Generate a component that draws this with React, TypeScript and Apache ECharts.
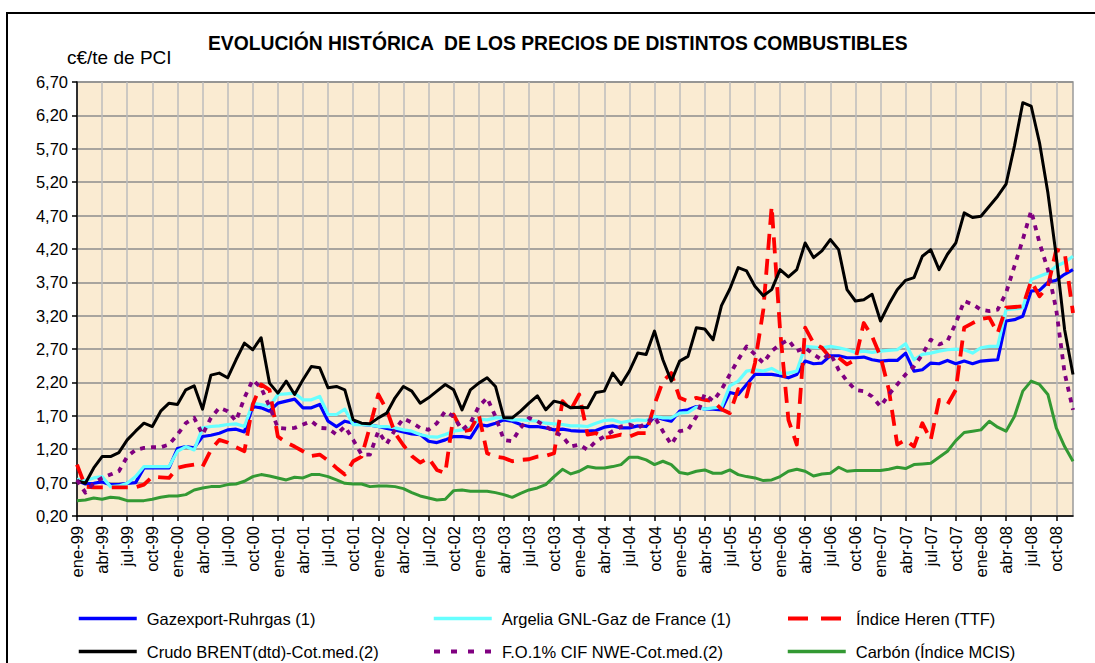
import React, { useEffect, useRef } from "react";
import * as echarts from "echarts";

const months = ["ene", "feb", "mar", "abr", "may", "jun", "jul", "ago", "sep", "oct", "nov", "dic"];
const years = ["99", "00", "01", "02", "03", "04", "05", "06", "07", "08"];
const categories = years.flatMap((y) => months.map((m) => `${m}-${y}`));

const yTicks = { min: 0.2, max: 6.7, interval: 0.5 };

const gazexport = [
  0.73, 0.68, 0.69, 0.71, 0.67, 0.67, 0.69, 0.70, 0.92, 0.92,
  0.92, 0.92, 1.21, 1.24, 1.22, 1.39, 1.41, 1.44, 1.49, 1.50,
  1.46, 1.84, 1.82, 1.77, 1.89, 1.92, 1.95, 1.82, 1.82, 1.87,
  1.62, 1.54, 1.62, 1.59, 1.57, 1.56, 1.54, 1.51, 1.49, 1.46,
  1.43, 1.42, 1.32, 1.30, 1.34, 1.39, 1.39, 1.37, 1.57, 1.55,
  1.59, 1.64, 1.62, 1.57, 1.54, 1.54, 1.52, 1.49, 1.50, 1.48,
  1.47, 1.47, 1.48, 1.53, 1.55, 1.52, 1.52, 1.55, 1.54, 1.69,
  1.65, 1.62, 1.77, 1.79, 1.84, 1.80, 1.80, 1.79, 2.05, 2.02,
  2.17, 2.32, 2.32, 2.32, 2.30, 2.27, 2.32, 2.52, 2.48, 2.49,
  2.60, 2.60, 2.57, 2.57, 2.58, 2.54, 2.52, 2.53, 2.53, 2.64,
  2.37, 2.39, 2.49, 2.48, 2.53, 2.48, 2.52, 2.48, 2.52, 2.53,
  2.54, 3.12, 3.14, 3.19, 3.57, 3.58, 3.70, 3.73, 3.82, 3.89,
];

const argelia = [
  0.75, 0.73, 0.77, 0.79, 0.64, 0.65, 0.69, 0.79, 0.94, 0.94,
  0.94, 0.94, 1.17, 1.24, 1.19, 1.52, 1.54, 1.55, 1.57, 1.58,
  1.54, 1.89, 1.87, 1.84, 2.02, 2.03, 2.04, 1.94, 1.94, 1.99,
  1.72, 1.72, 1.80, 1.57, 1.57, 1.56, 1.54, 1.54, 1.52, 1.49,
  1.47, 1.42, 1.39, 1.38, 1.42, 1.47, 1.49, 1.52, 1.65, 1.64,
  1.67, 1.67, 1.64, 1.64, 1.63, 1.62, 1.59, 1.58, 1.57, 1.55,
  1.55, 1.54, 1.59, 1.63, 1.64, 1.60, 1.62, 1.64, 1.63, 1.69,
  1.67, 1.67, 1.74, 1.75, 1.83, 1.80, 1.82, 1.83, 2.15, 2.22,
  2.37, 2.39, 2.37, 2.41, 2.34, 2.34, 2.37, 2.74, 2.73, 2.72,
  2.74, 2.72, 2.69, 2.65, 2.67, 2.65, 2.67, 2.68, 2.69, 2.78,
  2.54, 2.62, 2.64, 2.67, 2.69, 2.70, 2.69, 2.64, 2.72, 2.74,
  2.74, 3.29, 3.30, 3.32, 3.74, 3.79, 3.84, 3.94, 4.00, 4.09,
];

const heren = [
  0.97, 0.64, 0.63, 0.63, 0.63, 0.63, 0.63, 0.63, 0.67, 0.79,
  0.78, 0.77, 0.92, 0.95, 0.97, 0.94, 1.19, 1.34, 1.30, 1.23,
  1.17, 1.87, 2.17, 2.09, 1.39, 1.30, 1.24, 1.17, 1.10, 1.12,
  1.03, 0.92, 0.82, 1.02, 1.09, 1.54, 2.02, 1.79, 1.44, 1.26,
  1.10, 1.00, 1.07, 0.89, 0.84, 1.72, 1.47, 1.49, 1.72, 1.14,
  1.09, 1.07, 1.02, 1.04, 1.05, 1.09, 1.10, 1.14, 1.92, 1.79,
  2.02, 1.42, 1.44, 1.37, 1.39, 1.42, 1.39, 1.44, 1.44, 1.87,
  2.22, 2.34, 1.97, 1.92, 1.97, 1.94, 1.92, 1.80, 1.74, 2.10,
  1.99, 2.49, 3.29, 4.84, 2.99, 1.64, 1.27, 3.02, 2.79, 2.72,
  2.57, 2.57, 2.47, 2.54, 3.09, 2.89, 2.59, 2.09, 1.27, 1.34,
  1.24, 1.59, 1.34, 1.94, 1.87, 2.09, 3.02, 3.09, 3.15, 3.17,
  2.94, 3.32, 3.33, 3.34, 3.72, 3.49, 3.64, 4.19, 4.15, 3.24,
];

const brent = [
  0.73, 0.69, 0.92, 1.09, 1.09, 1.15, 1.34, 1.47, 1.59, 1.54,
  1.77, 1.89, 1.87, 2.09, 2.15, 1.80, 2.31, 2.34, 2.27, 2.54,
  2.79, 2.69, 2.87, 2.19, 2.04, 2.22, 2.02, 2.24, 2.44, 2.42,
  2.12, 2.14, 2.09, 1.64, 1.59, 1.58, 1.67, 1.74, 1.97, 2.14,
  2.07, 1.89, 1.97, 2.07, 2.17, 2.09, 1.79, 2.09, 2.19, 2.27,
  2.14, 1.67, 1.67, 1.77, 1.89, 2.00, 1.79, 1.92, 1.89, 1.82,
  1.83, 1.82, 2.05, 2.07, 2.34, 2.17, 2.37, 2.64, 2.62, 2.97,
  2.54, 2.22, 2.52, 2.59, 3.02, 3.00, 2.84, 3.35, 3.60, 3.92,
  3.87, 3.64, 3.50, 3.59, 3.89, 3.78, 3.89, 4.29, 4.07, 4.17,
  4.34, 4.19, 3.59, 3.42, 3.44, 3.52, 3.12, 3.37, 3.59, 3.73,
  3.77, 4.09, 4.19, 3.89, 4.12, 4.29, 4.74, 4.67, 4.69, 4.84,
  4.99, 5.17, 5.74, 6.39, 6.34, 5.79, 5.04, 4.09, 2.99, 2.32,
];

const fuelOil = [
  0.74, 0.55, 0.69, 0.77, 0.82, 0.87, 1.09, 1.19, 1.22, 1.23,
  1.23, 1.27, 1.42, 1.59, 1.67, 1.42, 1.67, 1.82, 1.77, 1.62,
  1.97, 2.24, 2.12, 1.84, 1.52, 1.51, 1.52, 1.57, 1.62, 1.52,
  1.51, 1.42, 1.54, 1.34, 1.12, 1.12, 1.47, 1.28, 1.49, 1.66,
  1.60, 1.52, 1.49, 1.59, 1.77, 1.69, 1.49, 1.59, 1.84, 1.97,
  1.69, 1.34, 1.32, 1.52, 1.67, 1.62, 1.54, 1.47, 1.39, 1.24,
  1.27, 1.19, 1.32, 1.39, 1.47, 1.54, 1.57, 1.52, 1.59, 1.69,
  1.47, 1.27, 1.47, 1.49, 1.69, 2.03, 1.92, 2.09, 2.32, 2.54,
  2.74, 2.62, 2.49, 2.67, 2.77, 2.84, 2.67, 2.72, 2.62, 2.54,
  2.64, 2.39, 2.22, 2.09, 2.07, 1.99, 1.84, 2.02, 2.17, 2.32,
  2.44, 2.62, 2.84, 2.77, 2.82, 3.09, 3.42, 3.37, 3.29, 3.27,
  3.29, 3.54, 3.94, 4.34, 4.77, 4.29, 3.89, 3.29, 2.34, 1.79,
];

const carbon = [
  0.43, 0.44, 0.47, 0.45, 0.48, 0.47, 0.43, 0.43, 0.43, 0.45,
  0.48, 0.50, 0.50, 0.52, 0.59, 0.62, 0.64, 0.64, 0.67, 0.68,
  0.72, 0.79, 0.82, 0.80, 0.77, 0.74, 0.78, 0.77, 0.82, 0.82,
  0.79, 0.74, 0.69, 0.68, 0.68, 0.64, 0.65, 0.65, 0.64, 0.61,
  0.55, 0.50, 0.47, 0.44, 0.45, 0.58, 0.59, 0.57, 0.57, 0.57,
  0.55, 0.52, 0.48, 0.54, 0.59, 0.62, 0.67, 0.79, 0.90, 0.83,
  0.87, 0.94, 0.92, 0.92, 0.94, 0.97, 1.08, 1.08, 1.04, 0.97,
  1.02, 0.97, 0.85, 0.83, 0.87, 0.89, 0.84, 0.84, 0.89, 0.82,
  0.79, 0.77, 0.73, 0.74, 0.79, 0.87, 0.90, 0.87, 0.80, 0.83,
  0.84, 0.93, 0.87, 0.88, 0.88, 0.88, 0.88, 0.90, 0.93, 0.91,
  0.97, 0.98, 0.99, 1.08, 1.17, 1.33, 1.45, 1.47, 1.49, 1.62,
  1.53, 1.47, 1.69, 2.07, 2.22, 2.17, 2.02, 1.52, 1.24, 1.02,
];

const names = {
  gaz: "Gazexport-Ruhrgas (1)",
  arg: "Argelia GNL-Gaz de France (1)",
  her: "Índice Heren (TTF)",
  bre: "Crudo BRENT(dtd)-Cot.med.(2)",
  fo: "F.O.1% CIF NWE-Cot.med.(2)",
  car: "Carbón (Índice MCIS)",
};

const FONT = '"Liberation Sans", Arial, sans-serif';

export default function App() {
  const ref = useRef<HTMLDivElement>(null);
  useEffect(() => {
    if (!ref.current) return;
    const chart = echarts.init(ref.current, null, { renderer: "svg" });
    const line = (name: string, data: number[], color: string, width: number, type: any, z: number) => ({
      name,
      type: "line",
      data,
      symbol: "none",
      showSymbol: false,
      z,
      lineStyle: { color, width, type, cap: "butt", join: "round" },
      itemStyle: { color },
    });
    const leg = (name: string, left: number, top: number, width: number, dash?: number[]) => ({
      orient: "horizontal",
      left,
      top,
      itemWidth: 58,
      itemHeight: 18,
      padding: 0,
      selectedMode: false,
      data: [name],
      itemStyle: { opacity: 0 },
      lineStyle: dash ? { width, type: dash } : { width },
      textStyle: { fontSize: 16.5, fontFamily: FONT, color: "#000", padding: [0, 0, 0, 5] },
    });
    chart.setOption({
      animation: false,
      backgroundColor: "#fff",
      title: [
        {
          text: "EVOLUCIÓN HISTÓRICA  DE LOS PRECIOS DE DISTINTOS COMBUSTIBLES",
          left: 208,
          top: 34,
          padding: 0,
          textStyle: { fontSize: 19.3, fontWeight: "bold", fontFamily: FONT, color: "#000" },
        },
        {
          text: "c€/te de PCI",
          left: 67,
          top: 48,
          padding: 0,
          textStyle: { fontSize: 19, fontWeight: "normal", fontFamily: FONT, color: "#000" },
        },
      ],
      graphic: [
        {
          type: "rect",
          silent: true,
          shape: { x: 7, y: 13, width: 1200, height: 800 },
          style: { fill: "none", stroke: "#000", lineWidth: 2 },
        },
      ],
      legend: [
        leg(names.gaz, 77, 610, 3.5),
        leg(names.arg, 432, 610, 3.5),
        leg(names.her, 786, 610, 4, [20, 13]),
        leg(names.bre, 77, 643, 3.5),
        leg(names.fo, 432, 643, 4, [6, 11]),
        leg(names.car, 786, 643, 3.5),
      ],
      grid: {
        left: 77,
        right: 22,
        top: 82,
        bottom: 147,
        show: true,
        backgroundColor: "#FAEBD2",
        borderColor: "#9a9a9a",
        borderWidth: 1.5,
      },
      xAxis: {
        type: "category",
        data: categories,
        boundaryGap: false,
        axisLine: { lineStyle: { color: "#000", width: 1.5 } },
        axisTick: { interval: 2, length: 5, lineStyle: { color: "#000", width: 1.5 } },
        axisLabel: {
          interval: 2,
          rotate: 90,
          margin: 10,
          fontSize: 16.5,
          fontFamily: FONT,
          color: "#000",
        },
        splitLine: { show: true, interval: 2, lineStyle: { color: "#BDBDBD", width: 1.5 } },
      },
      yAxis: {
        type: "value",
        min: yTicks.min,
        max: yTicks.max,
        interval: yTicks.interval,
        axisLine: { show: true, lineStyle: { color: "#000", width: 1.5 } },
        axisTick: { show: true, length: 5, lineStyle: { color: "#000", width: 1.5 } },
        axisLabel: {
          margin: 9,
          fontSize: 16.5,
          fontFamily: FONT,
          color: "#000",
          formatter: (v: number) => v.toFixed(2).replace(".", ","),
        },
        splitLine: { show: true, lineStyle: { color: "#8C8C8C", width: 1.5 } },
      },
      series: [
        line(names.gaz, gazexport, "#0000FF", 3.2, "solid", 2),
        line(names.arg, argelia, "#66FFFF", 3.2, "solid", 2),
        line(names.her, heren, "#FF0000", 3.8, [16, 9], 3),
        line(names.bre, brent, "#000000", 3, "solid", 3),
        line(names.fo, fuelOil, "#800080", 3.8, [5, 6], 3),
        line(names.car, carbon, "#339933", 3, "solid", 2),
      ],
    });
    return () => chart.dispose();
  }, []);
  return (
    <div
      ref={ref}
      style={{ position: "fixed", left: 0, top: 0, width: 1095, height: 663 }}
    />
  );
}
